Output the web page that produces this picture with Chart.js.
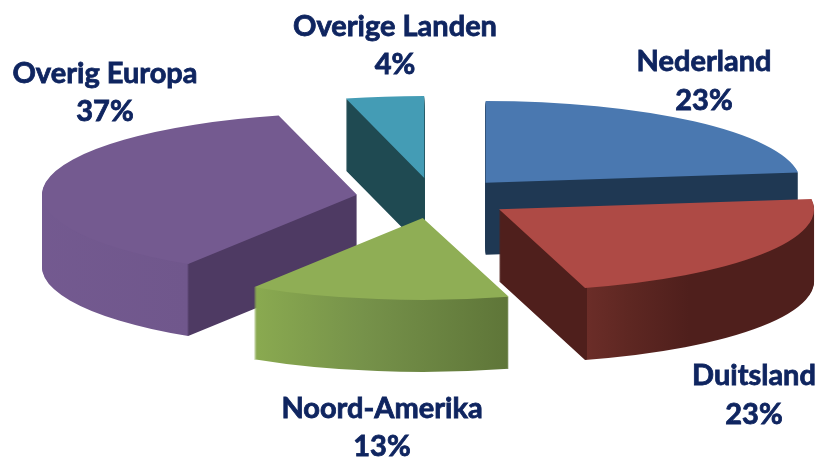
<!DOCTYPE html>
<html>
<head>
<meta charset="utf-8">
<style>html,body{margin:0;padding:0;background:#fff}#wrap{width:820px;height:459px}canvas{display:block}</style>
<script src="https://cdn.jsdelivr.net/npm/chart.js@4"></script>
</head>
<body>
<div id="wrap"><canvas id="c" width="820" height="459"></canvas></div>
<script>
const categories = ['Nederland', 'Duitsland', 'Noord-Amerika', 'Overig Europa', 'Overige Landen'];
const shares = [23, 22.6, 13.4, 37, 4];
const topColors = ['#4a78b0', '#ae4a45', '#8fae55', '#745a90', '#449cb5'];
// wall colour stops: [px from the slice apex, colour]
const wallStops = [
  [[-400, '#1f3853'], [400, '#1f3853']],
  [[-400, '#4f1f1c'], [88, '#4f1f1c'], [88, '#6b2d28'], [130, '#5e2722'], [190, '#4f1f1c'], [400, '#4f1f1c']],
  [[-400, '#8fae55'], [-169, '#8aaa50'], [-60, '#76924a'], [88, '#5e7538'], [400, '#5e7538']],
  [[-400, '#755b92'], [-170, '#70578c'], [-168, '#4e3a63'], [400, '#4e3a63']],
  [[-400, '#1f4a52'], [400, '#1f4a52']]
];
const drawOrder = [4, 0, 3, 2, 1];
const labelCenters = [[704, 62, 101], [754, 376, 415], [382, 409, 447], [105, 74, 112], [395, 27, 65]];
const EXPLODE = 78, SQUASH = 0.26, DEPTH = 72, RADIUS = 315, R_GRAD = 400;

const pie3d = {
  id: 'pie3d',
  beforeDatasetsDraw(chart) {
    const ctx = chart.ctx;
    const arcs = chart.getDatasetMeta(0).data;
    for (const i of drawOrder) {
      const arc = arcs[i];
      const mid = (arc.startAngle + arc.endAngle) / 2;
      const place = (drop) => {
        ctx.translate(0, drop);
        ctx.translate(arc.x, arc.y);
        ctx.scale(1, SQUASH);
        ctx.translate(-arc.x, -arc.y);
        ctx.translate(Math.cos(mid) * EXPLODE, Math.sin(mid) * EXPLODE);
      };
      const grad = ctx.createLinearGradient(arc.x - R_GRAD, 0, arc.x + R_GRAD, 0);
      for (const [dx, col] of wallStops[i]) grad.addColorStop((dx + R_GRAD) / (2 * R_GRAD), col);
      const wall = Object.create(arc);
      wall.options = Object.assign({}, arc.options, {backgroundColor: grad});
      for (let d = DEPTH; d > 0; d--) {
        ctx.save(); place(d); wall.draw(ctx); ctx.restore();
      }
      ctx.save(); place(0); arc.draw(ctx); ctx.restore();
    }
    return false;
  },
  afterDraw(chart) {
    const ctx = chart.ctx;
    ctx.save();
    ctx.font = 'bold 29px Lato';
    ctx.fillStyle = '#0f2560';
    ctx.strokeStyle = '#0f2560';
    ctx.lineWidth = 0.8;
    ctx.textAlign = 'center';
    ctx.textBaseline = 'middle';
    categories.forEach((name, i) => {
      const [x, y1, y2] = labelCenters[i];
      const pct = Math.round(shares[i]) + '%';
      ctx.fillText(name, x, y1); ctx.strokeText(name, x, y1);
      ctx.fillText(pct, x, y2); ctx.strokeText(pct, x, y2);
    });
    ctx.restore();
  }
};

new Chart(document.getElementById('c'), {
  type: 'pie',
  data: {
    labels: categories,
    datasets: [{data: shares, backgroundColor: topColors, borderWidth: 0}]
  },
  options: {
    responsive: false,
    animation: false,
    radius: RADIUS,
    layout: {padding: {left: 48, top: 0, right: 0, bottom: 63}},
    plugins: {legend: {display: false}, tooltip: {enabled: false}, title: {display: false}}
  },
  plugins: [pie3d]
});
</script>
</body>
</html>
